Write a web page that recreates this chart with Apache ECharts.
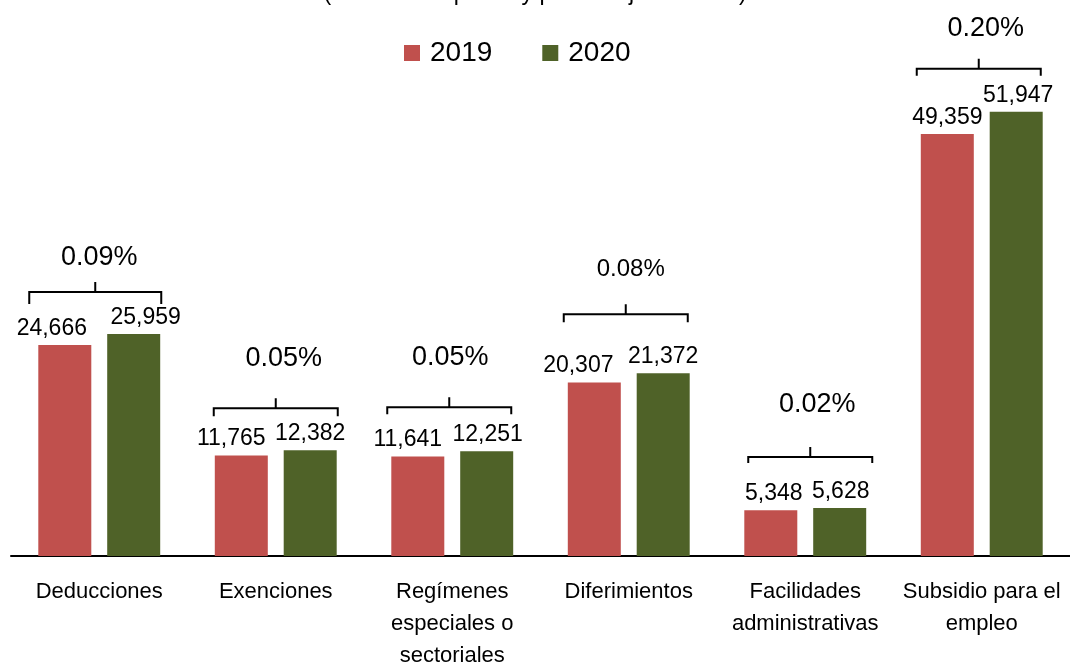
<!DOCTYPE html>
<html>
<head>
<meta charset="utf-8">
<script src="https://cdn.jsdelivr.net/npm/echarts@6/dist/echarts.min.js"></script>
<style>html,body{margin:0;padding:0;background:#fff;}#c{width:1070px;height:664px;}</style>
</head>
<body>
<div id="c"></div>
<script>
// ---- data ----
const categories = ['Deducciones', 'Exenciones', 'Regímenes\nespeciales o\nsectoriales', 'Diferimientos', 'Facilidades\nadministrativas', 'Subsidio para el\nempleo'];
const values2019 = [24666, 11765, 11641, 20307, 5348, 49359];
const values2020 = [25959, 12382, 12251, 21372, 5628, 51947];
const pibShare = ['0.09%', '0.05%', '0.05%', '0.08%', '0.02%', '0.20%'];
const seriesNames = ['2019', '2020'];
const subtitle = '(Millones de pesos y porcentajes del PIB)';

// ---- layout / style tweaks (pixels) ----
const labelDx2019 = [-13, -10, -10, -16, 3, 0];
const labelDx2020 = [12, 0, 1, 0, 1, 2];
const bracketGap = [42, 42, 44, 59, 51, 43];
const bracketDx = [-4, 0, -3, -3, 5, -3];
const bracketHalf = [66, 62, 62, 62, 62, 62];
const bracketEnd = [12, 8, 7, 8, 6, 7];
const pctGap = [35, 50, 50, 45, 52, 40];
const pctDx = [4, 8, 1, 5, 7, 7];
const pctFont = [27, 27, 27, 24, 27, 27];

const FONT = 'Liberation Sans';
const chart = echarts.init(document.getElementById('c'), null, {renderer: 'canvas'});

function barSeries(name, vals, color, dx) {
  return {
    name: name,
    type: 'bar',
    barWidth: 53,
    barGap: '30%',
    itemStyle: {color: color},
    data: vals.map((v, i) => ({
      value: v,
      label: {offset: [dx[i], 0]}
    })),
    label: {
      show: true,
      position: 'top',
      distance: 5,
      color: '#000',
      fontFamily: FONT,
      fontSize: 23,
      formatter: p => p.value.toLocaleString('en-US')
    },
    z: 2
  };
}

const bracketData = categories.map((c, i) => [i, Math.max(values2019[i], values2020[i])]);

const option = {
  animation: false,
  backgroundColor: '#fff',
  graphic: [{
    type: 'text',
    left: 'center',
    top: -18,
    style: {text: subtitle, font: '23px "' + FONT + '"', fill: '#000'}
  }],
  legend: {
    data: seriesNames,
    left: 399,
    top: 34,
    itemWidth: 16,
    itemHeight: 16,
    itemGap: 50,
    icon: 'rect',
    textStyle: {fontFamily: FONT, fontSize: 28, color: '#000', padding: [0, 0, 0, 5]}
  },
  grid: {left: 11, right: 0, top: 43, bottom: 108, containLabel: false, outerBoundsMode: 'none'},
  xAxis: {
    type: 'category',
    data: categories,
    axisLine: {lineStyle: {color: '#000', width: 2}},
    axisTick: {show: false},
    axisLabel: {
      interval: 0,
      margin: 20,
      color: '#000',
      fontFamily: FONT,
      fontSize: 22,
      lineHeight: 32
    }
  },
  yAxis: {
    type: 'value',
    min: 0,
    max: 60000,
    show: false,
    splitLine: {show: false}
  },
  series: [
    barSeries(seriesNames[0], values2019, '#C0504D', labelDx2019),
    barSeries(seriesNames[1], values2020, '#4F6228', labelDx2020),
    {
      type: 'custom',
      data: bracketData,
      silent: true,
      z: 3,
      renderItem: function (params, api) {
        const i = api.value(0);
        const pt = api.coord([i, api.value(1)]);
        const cx = pt[0] + bracketDx[i];
        const y = pt[1] - bracketGap[i];
        const hw = bracketHalf[i];
        const e = bracketEnd[i];
        return {
          type: 'group',
          children: [{
            type: 'polyline',
            shape: {points: [[cx - hw, y + e], [cx - hw, y], [cx, y], [cx, y - 10], [cx, y], [cx + hw, y], [cx + hw, y + e]]},
            style: {stroke: '#000', lineWidth: 2, fill: null}
          }, {
            type: 'text',
            x: cx + pctDx[i],
            y: y - pctGap[i],
            style: {
              text: pibShare[i],
              font: pctFont[i] + 'px "' + FONT + '"',
              fill: '#000',
              textAlign: 'center',
              textVerticalAlign: 'middle'
            }
          }]
        };
      }
    }
  ]
};
chart.setOption(option);
</script>
</body>
</html>
